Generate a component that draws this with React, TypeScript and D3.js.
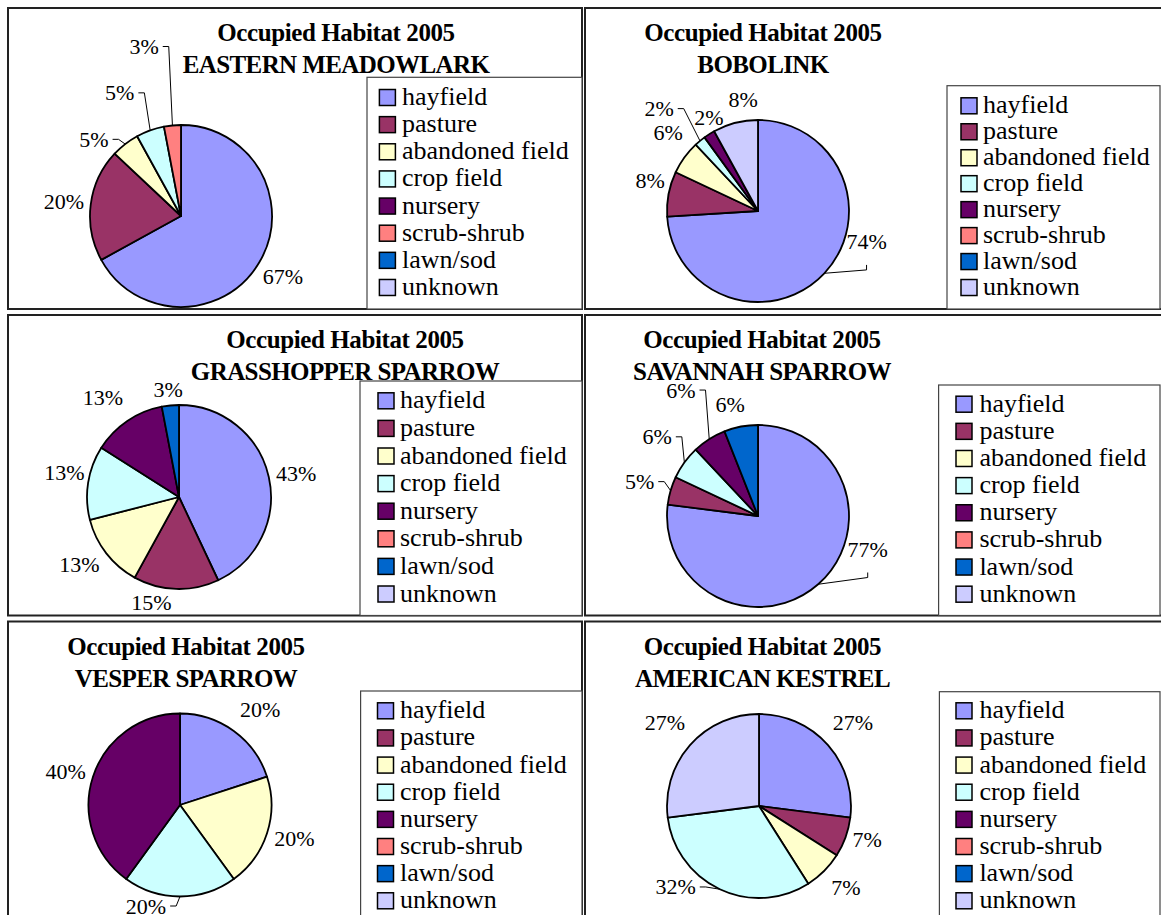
import React from 'react';
import * as d3 from 'd3';

// ---------- data ----------
const categories = ['hayfield', 'pasture', 'abandoned field', 'crop field', 'nursery', 'scrub-shrub', 'lawn/sod', 'unknown'];
const categoryColors = ['#9999FF', '#993366', '#FFFFCC', '#CCFFFF', '#660066', '#FF8080', '#0066CC', '#CCCCFF'];
const titleYear = 'Occupied Habitat 2005';
const speciesNames = ['EASTERN MEADOWLARK', 'BOBOLINK', 'GRASSHOPPER SPARROW', 'SAVANNAH SPARROW', 'VESPER SPARROW', 'AMERICAN KESTREL'];

// percent of occupied sites per habitat (order = categories)
const easternMeadowlark = [67, 20, 5, 5, 0, 3, 0, 0];
const bobolink = [74, 8, 6, 2, 2, 0, 0, 8];
const grasshopperSparrow = [43, 15, 13, 13, 13, 0, 3, 0];
const savannahSparrow = [77, 5, 0, 6, 6, 0, 6, 0];
const vesperSparrow = [20, 0, 20, 20, 40, 0, 0, 0];
const americanKestrel = [27, 7, 7, 32, 0, 0, 0, 27];
const speciesValues = [easternMeadowlark, bobolink, grasshopperSparrow, savannahSparrow, vesperSparrow, americanKestrel];

// ---------- layout (positions / styles only) ----------
type Nudge = [number, number, string] | null;
const labelNudges: Nudge[][] = [
  [[2, 1, ''], [-2, 0, ''], [-16, 15, 'h'], [-22, -14, 'h'], null, [-26, -54, 'h'], null, null],
  [[24, -49, 'v'], [6, -9, ''], [4, -10, ''], [-25, -13, 'h'], [13, 4, ''], null, null, [14, 1, '']],
  [[4, 2, ''], [-24, -10, ''], [-8, -4, ''], [0, -6, ''], [-11, -4, ''], null, [0, 7.5, ''], null],
  [[33, -54, 'v'], [-7, -2, 'h'], null, [-7, -11, 'h'], [-15, -28, 'h'], null, [-6, 2, ''], null],
  [[12, -1.5, ''], null, [4, -2, ''], [-34, -15, 'h'], [-4, 2, ''], null, null, null],
  [[7, -7, ''], [-1, -6, ''], [5, -1, ''], [-34, -24, 'h'], null, null, null, [-7, -7, '']],
];

const panels = [
  { px: 8, py: 8, pw: 574, ph: 301, cx: 181, cy: 216, r: 91, tx: 336, lx: 367, ly: 77.3, lr: 582, sx: 379.4, textX: 402, b0: 105, step: 27.14 },
  { px: 585, py: 8, pw: 600, ph: 301, cx: 758, cy: 211, r: 91, tx: 763, lx: 947, ly: 85.7, lr: 1160, sx: 961, textX: 983, b0: 113.3, step: 25.96 },
  { px: 8, py: 315, pw: 574, ph: 300.5, cx: 179, cy: 497, r: 92, tx: 345, lx: 360, ly: 381, lr: 582, sx: 378, textX: 400, b0: 408.3, step: 27.6 },
  { px: 585, py: 315, pw: 600, ph: 300.5, cx: 758, cy: 516, r: 91, tx: 762, lx: 938.6, ly: 385, lr: 1160, sx: 956, textX: 979.4, b0: 411.7, step: 27.14 },
  { px: 8, py: 621.5, pw: 574, ph: 320, cx: 180, cy: 805, r: 91.5, tx: 186, lx: 360.6, ly: 691, lr: 582, sx: 377.5, textX: 400, b0: 718.3, step: 27.14 },
  { px: 585, py: 621.5, pw: 600, ph: 320, cx: 759, cy: 806, r: 92, tx: 762.5, lx: 939.4, ly: 691.7, lr: 1160, sx: 956, textX: 979.4, b0: 718.3, step: 27.14 },
];

const SERIF = "'Liberation Serif', 'Times New Roman', serif";
const LABEL_FS = 22;
const LABEL_R = 116;

function PiePanel({ idx }: { idx: number }) {
  const p = panels[idx];
  const values = speciesValues[idx];
  const pie = d3.pie<number>().sort(null).value((v) => v).startAngle(0).endAngle(2 * Math.PI);
  const arcs = pie(values);
  const sliceArc = d3.arc<d3.PieArcDatum<number>>().innerRadius(0).outerRadius(p.r);
  const edgeArc = d3.arc<d3.PieArcDatum<number>>().innerRadius(p.r).outerRadius(p.r);
  const labelArc = d3.arc<d3.PieArcDatum<number>>().innerRadius(LABEL_R).outerRadius(LABEL_R);

  const legendBottom = p.py + p.ph;

  return (
    <g>
      <rect x={p.px} y={p.py} width={p.pw} height={p.ph} fill="#fff" stroke="#222" strokeWidth={2} />
      {/* legend */}
      <rect x={p.lx} y={p.ly} width={p.lr - p.lx} height={legendBottom - p.ly} fill="#fff" stroke="#444" strokeWidth={1.2} />
      {categories.map((c, i) => {
        const base = p.b0 + i * p.step;
        return (
          <g key={c}>
            <rect x={p.sx} y={base - 15.5} width={16} height={16} fill={categoryColors[i]} stroke="#000" strokeWidth={1.5} />
            <text x={p.textX} y={base} fontFamily={SERIF} fontSize={26} fill="#000">{c}</text>
          </g>
        );
      })}
      {/* pie */}
      <g transform={`translate(${p.cx},${p.cy})`}>
        {arcs.map((a, i) =>
          a.value > 0 ? (
            <path key={i} d={sliceArc(a) || ''} fill={categoryColors[i]} stroke="#000" strokeWidth={1.8} strokeLinejoin="round" />
          ) : null
        )}
        {arcs.map((a, i) => {
          const n = labelNudges[idx][i];
          if (a.value <= 0 || !n) return null;
          const [lx0, ly0] = labelArc.centroid(a);
          const lx = lx0 + n[0];
          const ly = ly0 + n[1];
          const txt = `${a.value}%`;
          const halfW = (LABEL_FS * (0.5 * String(a.value).length + 0.833)) / 2;
          const [ex, ey] = edgeArc.centroid(a);
          let leader: string | null = null;
          if (n[2] === 'h') {
            const dir = lx < ex ? 1 : -1;
            const sx = lx + dir * (halfW + 4);
            leader = `M${sx},${ly}L${sx + dir * 6},${ly}L${ex},${ey}`;
          } else if (n[2] === 'v') {
            leader = `M${lx},${ly + 23.5}L${lx},${ly + 28.5}L${ex},${ey}`;
          }
          return (
            <g key={'l' + i}>
              {leader && <path d={leader} fill="none" stroke="#000" strokeWidth={1} />}
              <text x={lx} y={ly + 7.5} textAnchor="middle" fontFamily={SERIF} fontSize={LABEL_FS} fill="#000">{txt}</text>
            </g>
          );
        })}
      </g>
      {/* title */}
      <text x={p.tx} y={p.py + 33} textAnchor="middle" fontFamily={SERIF} fontWeight="bold" fontSize={25} letterSpacing={-0.4} fill="#000">{titleYear}</text>
      <text x={p.tx} y={p.py + 65} textAnchor="middle" fontFamily={SERIF} fontWeight="bold" fontSize={25} letterSpacing={-0.6} fill="#000">{speciesNames[idx]}</text>
    </g>
  );
}

export default function App() {
  return (
    <svg width={1161} height={915} viewBox="0 0 1161 915" style={{ position: 'absolute', left: 0, top: 0, background: '#fff' }}>
      <rect x={0} y={0} width={1161} height={915} fill="#fff" />
      {panels.map((_, i) => (
        <PiePanel key={i} idx={i} />
      ))}
    </svg>
  );
}
